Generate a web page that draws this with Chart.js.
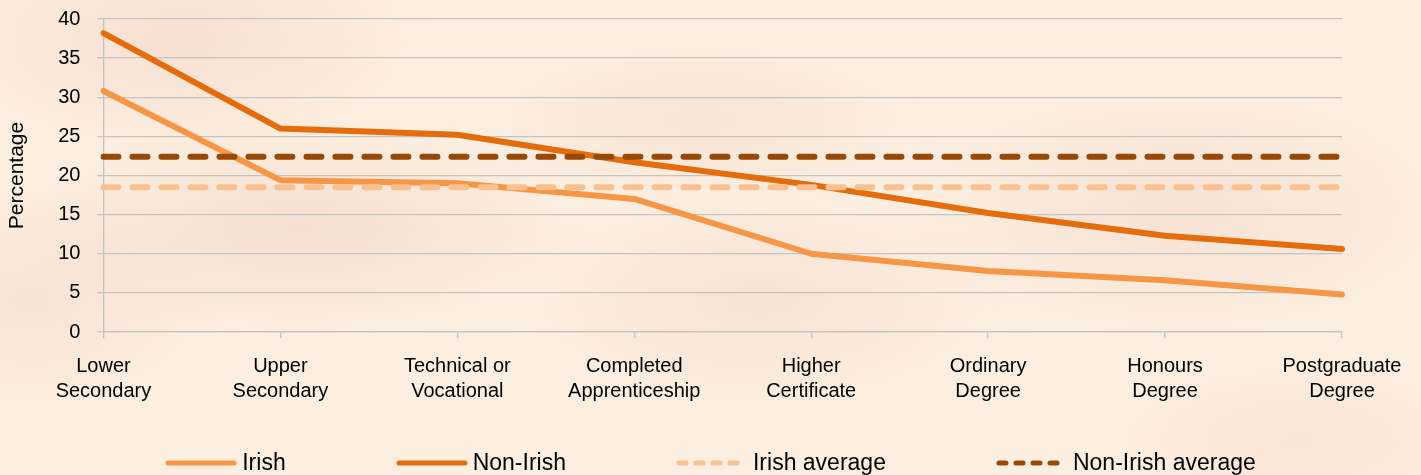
<!DOCTYPE html>
<html>
<head>
<meta charset="utf-8">
<script src="https://cdn.jsdelivr.net/npm/chart.js@4.4.1/dist/chart.umd.min.js"></script>
<style>
  html, body { margin: 0; padding: 0; }
  body {
    width: 1421px; height: 475px; overflow: hidden;
    background-color: #fcefe1;
    background-image:
      radial-gradient(ellipse 260px 120px at 180px 40px, rgba(243, 208, 196, 0.5), transparent),
      radial-gradient(ellipse 300px 110px at 300px 230px, rgba(238, 205, 192, 0.5), transparent),
      radial-gradient(ellipse 240px 90px at 700px 120px, rgba(240, 212, 198, 0.4), transparent),
      radial-gradient(ellipse 260px 120px at 760px 300px, rgba(240, 208, 196, 0.4), transparent),
      radial-gradient(ellipse 300px 140px at 1180px 210px, rgba(240, 210, 198, 0.45), transparent),
      radial-gradient(ellipse 200px 120px at 30px 300px, rgba(243, 212, 200, 0.45), transparent),
      radial-gradient(ellipse 220px 90px at 1300px 440px, rgba(243, 214, 202, 0.4), transparent);
  }
  #wrap { position: relative; width: 1421px; height: 475px; }
  #chart-box { position: absolute; left: 0; top: 0; width: 1421px; height: 475px; }
  #legend {
    position: absolute; left: 0; top: 449px; width: 1421px; height: 27px;
    display: flex; justify-content: center; align-items: center; gap: 110px;
    font-family: "Liberation Sans", Arial, sans-serif; font-size: 23px; color: #000;
  }
  .lg-item { display: flex; align-items: center; gap: 5px; white-space: nowrap; }
  .lg-item svg { display: block; }
</style>
</head>
<body>
<div id="wrap">
  <div id="chart-box"><canvas id="chart-edu"></canvas></div>
  <div id="legend"></div>
</div>
<script>
// ── Données ──────────────────────────────────────────────────────
const CATEGORIES = [
  ["Lower", "Secondary"],
  ["Upper", "Secondary"],
  ["Technical or", "Vocational"],
  ["Completed", "Apprenticeship"],
  ["Higher", "Certificate"],
  ["Ordinary", "Degree"],
  ["Honours", "Degree"],
  ["Postgraduate", "Degree"],
];
const IRISH         = [30.8, 19.4, 19.0, 17.0, 10.0, 7.8, 6.6, 4.8];
const NON_IRISH     = [38.2, 26.0, 25.2, 21.7, 18.8, 15.2, 12.3, 10.6];
const IRISH_AVG     = [18.5, 18.5, 18.5, 18.5, 18.5, 18.5, 18.5, 18.5];
const NON_IRISH_AVG = [22.4, 22.4, 22.4, 22.4, 22.4, 22.4, 22.4, 22.4];
const Y_TITLE = "Percentage";

// ── Style ────────────────────────────────────────────────────────
const FONT = "'Liberation Sans', Arial, sans-serif";
const GRID = "#c4c4c4";
const COLORS = {
  irish:       "#f79646",
  nonIrish:    "#e46c0a",
  irishAvg:    "#fac090",
  nonIrishAvg: "#984807",
};

Chart.defaults.font.family = FONT;
Chart.defaults.color = "#000";

function lineDataset(label, data, color, dashed, order) {
  return {
    label,
    data,
    borderColor: color,
    backgroundColor: color,
    borderWidth: 6,
    borderDash: dashed ? [15, 14] : [],
    borderCapStyle: "round",
    borderJoinStyle: "round",
    pointRadius: 0,
    pointHoverRadius: 0,
    tension: 0,
    fill: false,
    order,
  };
}

// ── Légende HTML ─────────────────────────────────────────────────
function buildLegend(chart) {
  const box = document.getElementById("legend");
  box.innerHTML = "";
  chart.data.datasets.forEach(ds => {
    const item = document.createElement("div");
    item.className = "lg-item";
    const dash = ds.borderDash.length ? 'stroke-dasharray="7 10"' : "";
    item.innerHTML =
      `<svg width="72" height="12"><line x1="3" y1="6" x2="69" y2="6" stroke="${ds.borderColor}" ` +
      `stroke-width="5" stroke-linecap="round" ${dash}/></svg>`;
    const span = document.createElement("span");
    span.textContent = ds.label;
    item.appendChild(span);
    box.appendChild(item);
  });
}

const chart = new Chart(document.getElementById("chart-edu"), {
  type: "line",
  data: {
    labels: CATEGORIES,
    datasets: [
      lineDataset("Irish",             IRISH,         COLORS.irish,       false, 4),
      lineDataset("Non-Irish",         NON_IRISH,     COLORS.nonIrish,    false, 3),
      lineDataset("Irish average",     IRISH_AVG,     COLORS.irishAvg,    true,  2),
      lineDataset("Non-Irish average", NON_IRISH_AVG, COLORS.nonIrishAvg, true,  1),
    ],
  },
  options: {
    responsive: true,
    maintainAspectRatio: false,
    animation: false,
    layout: { padding: { top: 0, right: 79, bottom: 55, left: 0 } },
    plugins: {
      legend: { display: false },
      tooltip: { enabled: false },
    },
    scales: {
      x: {
        offset: false,
        grid: { drawOnChartArea: false, drawTicks: true, tickLength: 6, color: GRID, lineWidth: 1.3 },
        border: { color: GRID, width: 1.3 },
        ticks: {
          autoSkip: false, maxRotation: 0, minRotation: 0, padding: 16,
          font: { size: 20, lineHeight: 1.25 }, color: "#000",
        },
      },
      y: {
        min: 0,
        max: 40,
        grid: { color: GRID, lineWidth: 1.3, tickLength: 6 },
        border: { color: GRID, width: 1.3 },
        ticks: { stepSize: 5, padding: 17, font: { size: 20, lineHeight: 0.2 }, color: "#000" },
        title: {
          display: true, text: Y_TITLE, color: "#000",
          font: { size: 21 }, padding: { top: 5, bottom: 11 },
        },
      },
    },
  },
});

buildLegend(chart);
</script>
</body>
</html>
